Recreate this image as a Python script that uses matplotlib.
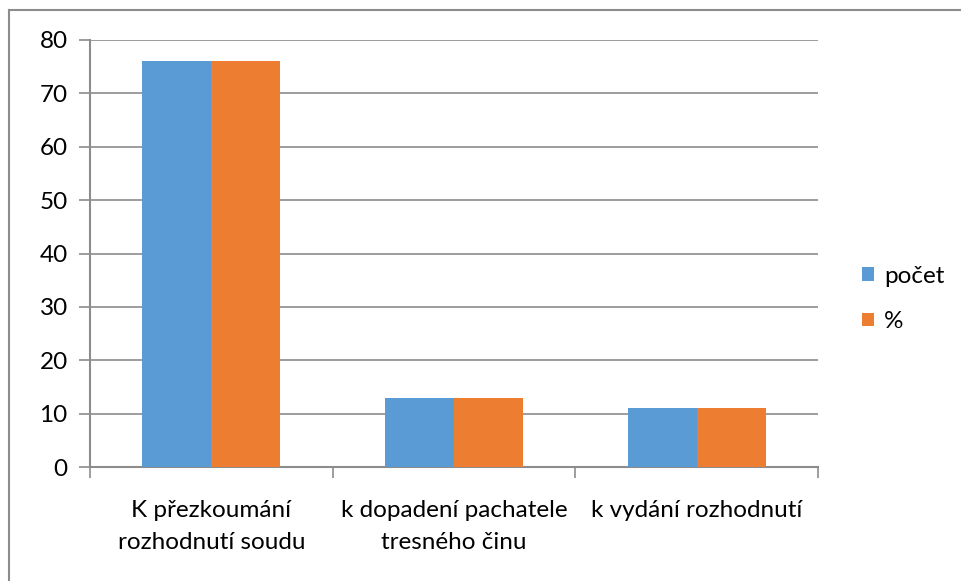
import numpy as np
import matplotlib.pyplot as plt
from matplotlib.lines import Line2D

categories = ['K přezkoumání\nrozhodnutí soudu',
              'k dopadení pachatele\ntresného činu',
              'k vydání rozhodnutí']
pocet = [76, 13, 11]
procenta = [76, 13, 11]
series_names = ['počet', '%']
colors = ['#5B9BD5', '#ED7D31']
yticks = [0, 10, 20, 30, 40, 50, 60, 70, 80]

plt.rcParams['font.family'] = ['Lato', 'DejaVu Sans']

W, H = 961, 581
fig = plt.figure(figsize=(W / 100, H / 100), dpi=100)

# outer chart border (only left and top are visible in the picture)
fig.add_artist(Line2D([9 / W, 9 / W], [0, 1 - 10 / H], color='#8c8c8c', lw=1.5))
fig.add_artist(Line2D([9 / W, 1], [1 - 10 / H, 1 - 10 / H], color='#8c8c8c', lw=1.5))

ax = fig.add_axes([90 / W, 1 - 467 / H, (818 - 90) / W, (467 - 40) / H])

x = np.arange(len(categories))
bw = 0.285
ax.bar(x - bw / 2, pocet, bw, color=colors[0], label=series_names[0], zorder=3)
ax.bar(x + bw / 2, procenta, bw, color=colors[1], label=series_names[1], zorder=3)

ax.set_xlim(-0.5, len(categories) - 0.5)
ax.set_ylim(0, 80)
ax.set_yticks(yticks)
ax.grid(axis='y', color='#8c8c8c', lw=1.2, zorder=0)

ax.set_xticks(np.arange(len(categories) + 1) - 0.5, minor=False)
ax.set_xticklabels([])
ax.set_xticks(x, minor=True)
ax.set_xticklabels(categories, minor=True, fontsize=17.5, linespacing=1.62)
ax.tick_params(axis='x', which='minor', length=0, pad=24)
ax.tick_params(axis='x', which='major', length=8, width=1.2, color='#8c8c8c')
ax.tick_params(axis='y', length=8, width=1.2, color='#8c8c8c', labelsize=17.5, pad=8)

for s in ['top', 'right']:
    ax.spines[s].set_visible(False)
for s in ['left', 'bottom']:
    ax.spines[s].set_color('#8c8c8c')
    ax.spines[s].set_linewidth(1.5)

ax.legend(loc='center left', bbox_to_anchor=(850 / W, 1 - 299 / H),
          bbox_transform=fig.transFigure, frameon=False, fontsize=17.5,
          handlelength=0.5, handleheight=0.5, handletextpad=0.4,
          labelspacing=1.0, borderpad=0)

fig.savefig('out.png', dpi=100)
